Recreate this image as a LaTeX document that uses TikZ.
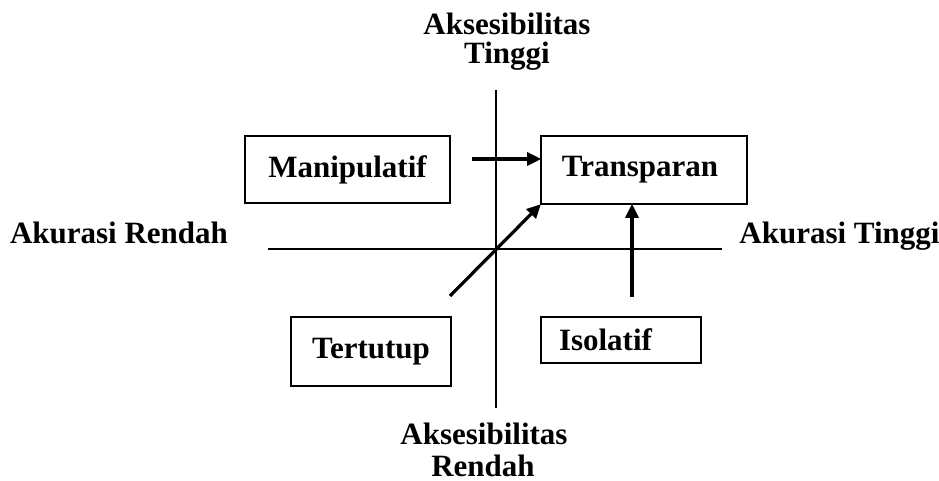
\documentclass[tikz,border=0pt]{standalone}
\usepackage{fontspec}
\setmainfont{Liberation Serif}
\usetikzlibrary{arrows.meta}
\begin{document}
\begin{tikzpicture}[x=1pt,y=-1pt,
  lbl/.style={font=\fontsize{31}{31}\selectfont\bfseries, anchor=base, inner sep=0pt},
  box/.style={draw, line width=1.6pt, rectangle, inner sep=0pt, font=\fontsize{31}{31}\selectfont\bfseries},
  axis/.style={line width=1.3pt},
  arr/.style={line width=3.2pt, -{Triangle[length=14pt,width=13pt]}, shorten >=-1pt}]
\useasboundingbox (0,0) rectangle (939,481);
% axes
\coordinate (vt) at (496,90);
\coordinate (vb) at (496,408);
\coordinate (hl) at (268,249);
\coordinate (hr) at (722,249);
\draw[axis] (vt) -- (vb);
\draw[axis] (hl) -- (hr);
% labels
\node[lbl] (top1) at (507,35) {Aksesibilitas};
\node[lbl] (top2) at (507,64) {Tinggi};
\node[lbl] (bot1) at (484,444) {Aksesibilitas};
\node[lbl] (bot2) at (483,476) {Rendah};
\node[lbl] (left) at (119,243) {Akurasi Rendah};
\node[lbl] (right) at (839.5,243) {Akurasi Tinggi};
% boxes
\node[box, minimum width=205pt, minimum height=67pt] (Manipulatif) at (347.5,169.5) {\raisebox{1pt}{Manipulatif}};
\node[box, minimum width=206pt, minimum height=68pt] (Transparan) at (644,170) {\raisebox{1pt}{Transparan}\hspace*{8pt}};
\node[box, minimum width=160pt, minimum height=69pt] (Tertutup) at (371,351.5) {\raisebox{2pt}{Tertutup}};
\node[box, minimum width=160pt, minimum height=46pt] (Isolatif) at (621,340) {\raisebox{-4pt}{Isolatif}\hspace*{31pt}};
% arrows
\coordinate (m1) at (472,159);
\coordinate (t1) at (450,296);
\coordinate (i1) at (632,297);
\draw[arr] (m1) -- (m1 -| Transparan.west);
\draw[arr] (t1) -- (Transparan.south west);
\draw[arr] (i1) -- (i1 |- Transparan.south);
\end{tikzpicture}
\end{document}
